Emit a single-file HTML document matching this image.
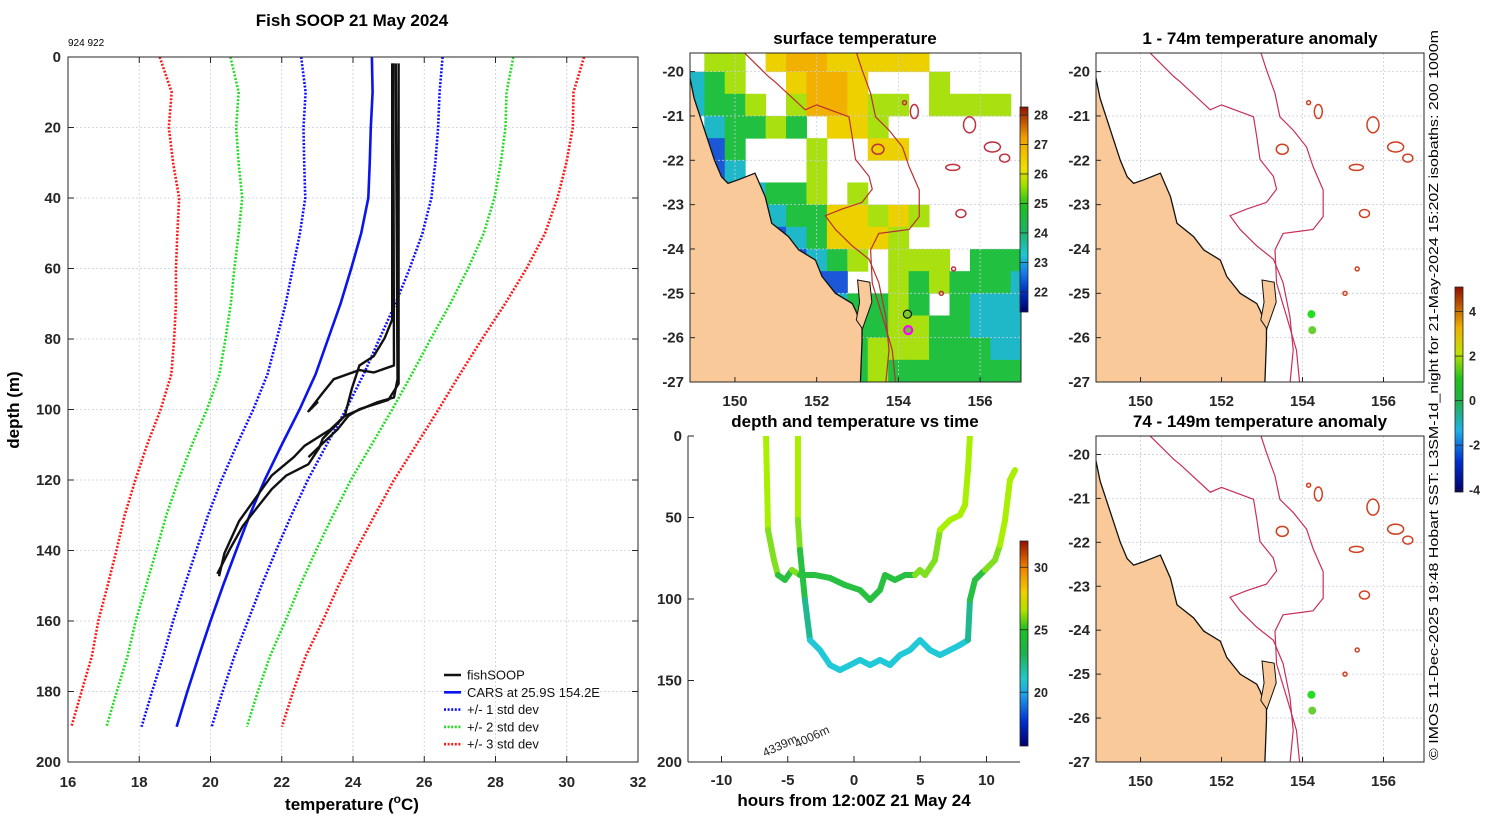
<!DOCTYPE html>
<html><head><meta charset="utf-8"><title>Fish SOOP 21 May 2024</title>
<style>
html,body{margin:0;padding:0;background:#fff;}
svg{display:block;font-family:"Liberation Sans",sans-serif;}
.tk{font-size:15px;font-weight:bold;fill:#262626;}
.ttl{font-size:17px;font-weight:bold;fill:#000;}
</style></head>
<body>
<svg id="fig" xmlns="http://www.w3.org/2000/svg" width="1500" height="820" viewBox="0 0 1500 820">
<defs>
<linearGradient id="sstGrad" x1="0" y1="1" x2="0" y2="0">
<stop offset="0" stop-color="#00006a"/><stop offset="0.1" stop-color="#0030c0"/><stop offset="0.2" stop-color="#1a80e8"/><stop offset="0.28" stop-color="#20c8d0"/><stop offset="0.4" stop-color="#20b060"/><stop offset="0.52" stop-color="#20c020"/><stop offset="0.62" stop-color="#a0e000"/><stop offset="0.7" stop-color="#f0e000"/><stop offset="0.85" stop-color="#f0a000"/><stop offset="1" stop-color="#901000"/>
</linearGradient>
<linearGradient id="tGrad" x1="0" y1="1" x2="0" y2="0">
<stop offset="0" stop-color="#00006a"/><stop offset="0.12" stop-color="#0030d0"/><stop offset="0.25" stop-color="#20a0e8"/><stop offset="0.33" stop-color="#20c8c8"/><stop offset="0.45" stop-color="#20b050"/><stop offset="0.57" stop-color="#20c020"/><stop offset="0.66" stop-color="#b0e000"/><stop offset="0.75" stop-color="#f0d000"/><stop offset="0.87" stop-color="#f08000"/><stop offset="1" stop-color="#901000"/>
</linearGradient>
<linearGradient id="aGrad" x1="0" y1="1" x2="0" y2="0">
<stop offset="0" stop-color="#00006a"/><stop offset="0.15" stop-color="#0030d0"/><stop offset="0.3" stop-color="#20b0e8"/><stop offset="0.45" stop-color="#20b040"/><stop offset="0.55" stop-color="#20c020"/><stop offset="0.68" stop-color="#c0e000"/><stop offset="0.8" stop-color="#f0b000"/><stop offset="1" stop-color="#901000"/>
</linearGradient>
<clipPath id="clipMid"><rect x="690" y="53" width="331" height="329"/></clipPath>
<clipPath id="clipR1"><rect x="1096" y="53" width="328" height="329"/></clipPath>
<clipPath id="clipR2"><rect x="1096" y="436" width="328" height="326"/></clipPath>
<clipPath id="clipDT"><rect x="688" y="436" width="332" height="326"/></clipPath>
</defs>
<text class="ttl" x="352" y="26" text-anchor="middle">Fish SOOP 21 May 2024</text>
<text x="68" y="46" font-size="10" fill="#000">924 922</text>
<text class="ttl" x="855" y="44" text-anchor="middle">surface temperature</text>
<text class="ttl" x="1260" y="44" text-anchor="middle">1 - 74m temperature anomaly</text>
<text class="ttl" x="855" y="427" text-anchor="middle">depth and temperature vs time</text>
<text class="ttl" x="1260" y="427" text-anchor="middle">74 - 149m temperature anomaly</text>
<text class="ttl" x="352" y="810" text-anchor="middle">temperature (<tspan font-size="12" dy="-7">o</tspan><tspan dy="7">C)</tspan></text>
<text class="ttl" x="0" y="0" transform="translate(19,410) rotate(-90)" text-anchor="middle">depth (m)</text>
<text class="ttl" x="854" y="806" text-anchor="middle">hours from 12:00Z 21 May 24</text>
<text x="0" y="0" transform="translate(1438,395) rotate(-90)" text-anchor="middle" font-size="13" fill="#000" textLength="730" lengthAdjust="spacingAndGlyphs">© IMOS 11-Dec-2025 19:48 Hobart SST: L3SM-1d_night for 21-May-2024 15:20Z isobaths: 200  1000m</text>
<g id="mainG"></g>
<g id="dtG"></g>
<g id="midG"></g>
<g id="r1G"></g>
<g id="r2G"></g>
</svg>
<script>
const NS='http://www.w3.org/2000/svg';
function mk(tag,attrs,parent){const e=document.createElementNS(NS,tag);for(const k in attrs)e.setAttribute(k,attrs[k]);parent.appendChild(e);return e;}

// ---------- main profile data ----------
const depths=[0,10,20,30,40,50,60,70,80,90,100,110,120,130,140,150,160,170,180,190];
const carsMean=[24.53,24.55,24.5,24.47,24.43,24.23,23.95,23.65,23.3,22.95,22.5,22.0,21.52,21.1,20.72,20.35,20.0,19.67,19.35,19.05];
const carsStd=[1.985,1.88,1.89,1.84,1.77,1.72,1.64,1.54,1.44,1.35,1.30,1.26,1.21,1.17,1.12,1.08,1.05,1.0,0.99,0.985];
const xTicks=[16,18,20,22,24,26,28,30,32];
const yTicks=[0,20,40,60,80,100,120,140,160,180,200];
const traceA_t=[25.20,25.25,25.15,24.69,23.77,23.36,22.64,22.34,21.72,21.31,20.80,20.39,20.24];
const traceA_d=[1.8,91.4,96.6,97.9,101.8,105.7,110.3,113.5,118.7,124.5,131.7,140.8,147.3];
const traceB_t=[25.13,25.15,24.58,24.18,23.46,23.15,22.75,23.0,22.8];
const traceB_d=[1.8,87.5,89.5,88.8,91.4,95.3,100.5,98,100];
const traceC_t=[25.10,25.10,24.89,24.58,24.18,23.97,23.77,23.15,23.05,22.75,22.13,21.72,21.31,20.91,20.55,20.29,20.19];
const traceC_d=[1.8,74.5,79.7,84.9,87.5,94.0,101.8,108.3,110.9,115.5,118.7,122.6,127.8,133,139.5,144.7,146.6];
const traceD_t=[25.28,25.28,24.99,24.18,23.87,23.56,23.15,22.75];
const traceD_d=[1.8,92.7,97.3,99.9,101.8,105.7,109.6,113.5];

const mX=t=>68+(t-16)*570/16, mY=d=>57+d*705/200;
const mg=document.getElementById('mainG');
for(const t of xTicks){
  const g=mk('line',{x1:mX(t),x2:mX(t),y1:57,y2:762,stroke:'#c8cce0','stroke-width':0.8,'stroke-dasharray':'2,2'},mg);
  
  
  const tl=mk('text',{x:mX(t),y:787,'text-anchor':'middle',class:'tk'},mg); tl.textContent=t;
  
  
  mk('line',{x1:mX(t),x2:mX(t),y1:762,y2:756,stroke:'#262626'},mg);
  mk('line',{x1:mX(t),x2:mX(t),y1:57,y2:63,stroke:'#262626'},mg);
}
for(const d of yTicks){
  const g=mk('line',{x1:68,x2:638,y1:mY(d),y2:mY(d),stroke:'#c8cce0','stroke-width':0.8,'stroke-dasharray':'2,2'},mg);
  
  
  const tl=mk('text',{x:61,y:mY(d)+5,'text-anchor':'end',class:'tk'},mg); tl.textContent=d;
  
  
  mk('line',{x1:68,x2:74,y1:mY(d),y2:mY(d),stroke:'#262626'},mg);
  mk('line',{x1:632,x2:638,y1:mY(d),y2:mY(d),stroke:'#262626'},mg);
}
const stdCols=['#1010ff','#22dd22','#ff1a1a'];
[1,2,3].forEach((k,i)=>{
  for(const s of [-1,1]){
    const pts=depths.map((d,j)=>mX(carsMean[j]+s*k*carsStd[j])+','+mY(d)).join(' ');
    const l=mk('polyline',{points:pts,fill:'none',stroke:stdCols[i],'stroke-width':2.6,'stroke-dasharray':'2,1.6'},mg);
    
    
  }
});
const cars=mk('polyline',{points:depths.map((d,j)=>mX(carsMean[j])+','+mY(d)).join(' '),fill:'none',stroke:'#0a14ee','stroke-width':2.6},mg);


[[traceA_t,traceA_d],[traceB_t,traceB_d],[traceC_t,traceC_d],[traceD_t,traceD_d]].forEach((tr,i)=>{
  const l=mk('polyline',{points:tr[0].map((t,j)=>mX(t)+','+mY(tr[1][j])).join(' '),fill:'none',stroke:'#111','stroke-width':2.4,'stroke-linejoin':'round'},mg);
  
  
});
const box=mk('rect',{x:68,y:57,width:570,height:705,fill:'none',stroke:'#262626','stroke-width':1},mg);


// legend
const legItems=[['fishSOOP','#111',null],['CARS at 25.9S 154.2E','#0a14ee',null],['+/- 1 std dev','#1010ff','2,1.6'],['+/- 2 std dev','#22dd22','2,1.6'],['+/- 3 std dev','#ff1a1a','2,1.6']];
legItems.forEach((it,i)=>{
  const y=675+i*17.3;
  const l=mk('line',{x1:444,x2:461,y1:y,y2:y,stroke:it[1],'stroke-width':2.6},mg);
  if(it[2])l.setAttribute('stroke-dasharray',it[2]);
  
  
  const t=mk('text',{x:467,y:y+4.5,'font-size':13,fill:'#111'},mg); t.textContent=it[0];
  
  
});

// ---------- depth vs time ----------
const hoursTicks=[-10,-5,0,5,10];
const dtDepthTicks=[0,50,100,150,200];
const run1_h=[-6.64,-6.49,-6.04,-5.74,-5.21,-4.68,-4.08,-2.94,-1.81,-0.68,0.45,1.21,1.96,2.34,3.09,3.85,4.60,4.98,5.36,6.11,6.49,7.25,8.0,8.38,8.60,8.75];
const run1_d=[0,57.7,76.1,85.3,88.3,82.2,85.3,85.3,87.1,91.4,94.5,100.6,94.5,85.3,88.3,85.3,85.3,82.2,85.3,76.1,57.7,51.5,48.5,42.3,20.9,0];
const run2_h=[-4.23,-4.23,-4.08,-3.70,-3.32,-2.57,-1.81,-1.06,-0.30,0.45,1.21,1.96,2.72,3.47,4.23,4.98,5.74,6.49,7.25,8.0,8.60,8.75,9.13,9.89,10.64,11.02,11.40,11.77,12.15];
const run2_d=[0,51.5,69.9,100.6,125.2,131.3,140.5,143.6,140.5,137.4,140.5,137.4,140.5,134.4,131.3,125.2,131.3,134.4,131.3,128.2,125.2,100.6,88.3,82.2,76.1,66.9,51.5,27.0,20.9];
const colDepth=[0,60,84,100,118];
const colVals=['#a8f000','#80e020','#28c040','#20b890','#20c8d8'];
const dX=h=>854+h*13.25, dY=d=>436+d*1.63;
const dg=document.getElementById('dtG');
function depthColor(d){let c=colVals[0];for(let i=0;i<colDepth.length;i++)if(d>=colDepth[i])c=colVals[i];return c;}
const dclip=mk('g',{'clip-path':'url(#clipDT)'},dg);
[[run1_h,run1_d],[run2_h,run2_d]].forEach((r,ri)=>{
  for(let j=0;j<r[0].length-1;j++){
    const s=mk('line',{x1:dX(r[0][j]),y1:dY(r[1][j]),x2:dX(r[0][j+1]),y2:dY(r[1][j+1]),stroke:depthColor((r[1][j]+r[1][j+1])/2),'stroke-width':6,'stroke-linecap':'round'},dclip);
    
    
  }
});
for(const h of hoursTicks){
  const t=mk('text',{x:dX(h),y:785,'text-anchor':'middle',class:'tk'},dg); t.textContent=h;
  
  
  mk('line',{x1:dX(h),x2:dX(h),y1:762,y2:756,stroke:'#262626'},dg);
}
for(const d of dtDepthTicks){
  const t=mk('text',{x:682,y:dY(d)+5,'text-anchor':'end',class:'tk'},dg); t.textContent=d;
  
  
  mk('line',{x1:688,x2:694,y1:dY(d),y2:dY(d),stroke:'#262626'},dg);
}
mk('line',{x1:688,x2:688,y1:436,y2:762,stroke:'#262626'},dg);
mk('line',{x1:688,x2:1020,y1:762,y2:762,stroke:'#262626'},dg);
const a1=mk('text',{x:0,y:0,transform:'translate(765,757) rotate(-25)','font-size':12,fill:'#222'},dg); a1.textContent='4339m';


const a2=mk('text',{x:0,y:0,transform:'translate(797,748) rotate(-25)','font-size':12,fill:'#222'},dg); a2.textContent='4006m';


function colorbar(parent,x,y,w,h,grad,ticks,vTop,vBot,name){
  const r=mk('rect',{x:x,y:y,width:w,height:h,fill:'url(#'+grad+')',stroke:'#222','stroke-width':0.8},parent);
  
  
  for(const v of ticks){
    const yy=y+(vTop-v)/(vTop-vBot)*h;
    mk('line',{x1:x,x2:x+w,y1:yy,y2:yy,stroke:'#222','stroke-width':0.8},parent);
    const t=mk('text',{x:x+w+6,y:yy+4.5,'font-size':12.5,'font-weight':'bold',fill:'#262626'},parent); t.textContent=v;
    
    
  }
}
const dtCbTicks=[20,25,30];
colorbar(dg,1020,541,8,205,'tGrad',dtCbTicks,32.1,15.7,'dt-colorbar');

// ---------- maps ----------
const lonTicks=[150,152,154,156];
const latTicks=[-20,-21,-22,-23,-24,-25,-26,-27];
const coastLon=[148.89,149.0,149.25,149.5,149.67,149.83,150.08,150.49,150.74,150.82,150.9,151.31,151.56,151.97,152.13,152.46,152.87,152.95,153.11,153.11,153.07];
const coastLat=[-20.1,-20.6,-21.3,-22.0,-22.37,-22.52,-22.44,-22.29,-22.82,-23.12,-23.42,-23.72,-24.02,-24.25,-24.62,-25.0,-25.23,-25.38,-25.75,-26.05,-27.03];
const fraserLon=[153.0,153.3,153.35,153.12,152.97,153.05];
const fraserLat=[-24.7,-24.75,-25.2,-25.8,-25.6,-25.2];
const iso200Lon=[150.16,150.82,150.98,151.72,152.0,152.79,152.87,152.95,153.28,153.36,153.11,152.62,152.21,152.46,152.87,153.28,153.52,153.69,153.77,153.69];
const iso200Lat=[-19.51,-20.11,-20.23,-20.86,-20.75,-21.02,-21.47,-21.98,-22.36,-22.65,-22.95,-23.1,-23.25,-23.56,-23.93,-24.23,-24.76,-25.53,-26.28,-27.03];
const iso1000Lon=[152.95,153.11,153.32,153.44,153.77,154.1,154.26,154.51,154.51,154.26,153.93,153.52,153.32,153.36,153.61,153.85,153.93];
const iso1000Lat=[-19.51,-19.96,-20.49,-21.02,-21.32,-21.7,-22.14,-22.67,-23.27,-23.56,-23.6,-23.65,-24.02,-24.77,-25.53,-26.28,-27.03];
const reefLon=[154.39,155.74,155.33,155.53,156.3,156.6,154.15,155.35,155.05,153.5];
const reefLat=[-20.9,-21.2,-22.16,-23.2,-21.7,-21.95,-20.7,-24.45,-25.0,-21.75];
const reefRx=[4,6,7,5,8,5,2,2,2,6];
const reefRy=[7,8,3,4,5,4,2,2,2,5];
const sstRows=[
" yy YooYYYYY     ",
"cgy  YooY   y    ",
"cggy yooYyy yyyy ",
" cggyg YYy       ",
" bg   y  YY      ",
" bc   y          ",
"   cggy y        ",
"   bcggYYyYy     ",
"    bcgYYYy      ",
"     bcgy yyy ggg",
"      bb  ygygggc",
"       cggyg gccc",
"       cggyyggccc",
"       cgyyygggcc",
"        gyggggggg"];
const sstColors={b:'#1a58d8',c:'#1fb8c8',g:'#22c040',y:'#a8e010',Y:'#ecd000',o:'#f2b000'};
const obsLon=[154.22,154.24];
const obsLat=[-25.47,-25.83];

function drawMap(g,x0,y0,w,h,clip,opts){
  const X=lon=>x0+(lon-148.9)/8.1*w, Y=lat=>y0+(-19.58-lat)/7.42*h;
  const c=mk('g',{'clip-path':'url(#'+clip+')'},g);
  if(opts.sst){
    sstRows.forEach((row,ri)=>{
      for(let ci=0;ci<row.length;ci++){
        const ch=row[ci]; if(ch===' ')continue;
        const lon=148.75+ci*0.5, lat=-19.5-ri*0.5;
        const r=mk('rect',{x:X(lon),y:Y(lat),width:X(lon+0.5)-X(lon)+0.5,height:Y(lat-0.5)-Y(lat)+0.5,fill:sstColors[ch]},c);
        
        
      }
    });
  }
  for(const lon of lonTicks) mk('line',{x1:X(lon),x2:X(lon),y1:y0,y2:y0+h,stroke:'#c8cce0','stroke-width':0.8,'stroke-dasharray':'2,2'},c);
  for(const lat of latTicks) mk('line',{x1:x0,x2:x0+w,y1:Y(lat),y2:Y(lat),stroke:'#c8cce0','stroke-width':0.8,'stroke-dasharray':'2,2'},c);
  let pts=coastLon.map((l,i)=>X(l)+','+Y(coastLat[i])).join(' ');
  pts+=' '+X(148.7)+','+Y(-27.2)+' '+X(148.7)+','+Y(-20.1);
  const land=mk('polygon',{points:pts,fill:'#f9c99a',stroke:'#111','stroke-width':1.3},c);
  
  
  const fr=mk('polygon',{points:fraserLon.map((l,i)=>X(l)+','+Y(fraserLat[i])).join(' '),fill:'#f9c99a',stroke:'#111','stroke-width':1},c);
  
  
  const isoCol=opts.sst?'#b83030':'#c8305a';
  const i2=mk('polyline',{points:iso200Lon.map((l,i)=>X(l)+','+Y(iso200Lat[i])).join(' '),fill:'none',stroke:isoCol,'stroke-width':1.2},c);
  
  
  const i1=mk('polyline',{points:iso1000Lon.map((l,i)=>X(l)+','+Y(iso1000Lat[i])).join(' '),fill:'none',stroke:isoCol,'stroke-width':1.2},c);
  
  
  reefLon.forEach((l,i)=>{
    const e=mk('ellipse',{cx:X(l),cy:Y(reefLat[i]),rx:reefRx[i],ry:reefRy[i],fill:'none',stroke:opts.sst?'#c03040':'#d04020','stroke-width':1.5},c);
    
    
  });
  if(opts.sst){
    const p1=mk('circle',{cx:X(obsLon[0]),cy:Y(obsLat[0]),r:4,fill:'#7cc830',stroke:'#111','stroke-width':1.2},c);
    
    
    const p2=mk('circle',{cx:X(obsLon[1]),cy:Y(obsLat[1]),r:4,fill:'#6cc030',stroke:'#ff00ff','stroke-width':2.2},c);
    
    
  } else {
    obsLon.forEach((l,i)=>{
      const p=mk('circle',{cx:X(l),cy:Y(obsLat[i]),r:4,fill:i===0?'#22dd22':'#66d030'},c);
      
      
    });
  }
  const b=mk('rect',{x:x0,y:y0,width:w,height:h,fill:'none',stroke:'#262626','stroke-width':1},g);
  
  
  for(const lon of lonTicks){
    const t=mk('text',{x:X(lon),y:y0+h+24,'text-anchor':'middle',class:'tk'},g); t.textContent=lon;
    
    
    mk('line',{x1:X(lon),x2:X(lon),y1:y0+h,y2:y0+h-5,stroke:'#262626'},g);
  }
  for(const lat of latTicks){
    const t=mk('text',{x:x0-6,y:Y(lat)+5,'text-anchor':'end',class:'tk'},g); t.textContent=lat;
    
    
    mk('line',{x1:x0,x2:x0+5,y1:Y(lat),y2:Y(lat),stroke:'#262626'},g);
  }
}
drawMap(document.getElementById('midG'),690,53,331,329,'clipMid',{sst:true});
drawMap(document.getElementById('r1G'),1096,53,328,329,'clipR1',{sst:false});
drawMap(document.getElementById('r2G'),1096,436,328,326,'clipR2',{sst:false});
const sstCbTicks=[22,23,24,25,26,27,28];
colorbar(document.getElementById('midG'),1020,107,8,205,'sstGrad',sstCbTicks,28.27,21.32,'sst-colorbar');
const anomCbTicks=[-4,-2,0,2,4];
colorbar(document.getElementById('r1G'),1455,287,8,205,'aGrad',anomCbTicks,5.1,-4.1,'anomaly-colorbar');
</script>
</body></html>
